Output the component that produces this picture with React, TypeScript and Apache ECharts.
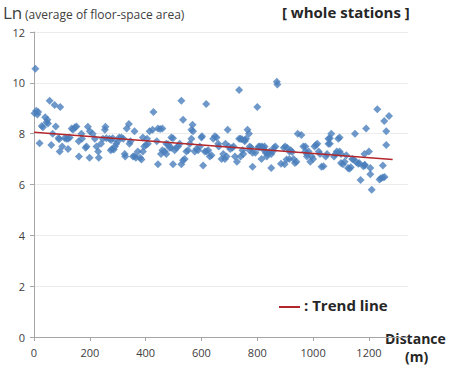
import React, { useEffect, useRef } from "react";
import * as echarts from "echarts";

const distances: number[] = [
  5, 2, 8, 12, 15, 20, 28, 32, 40, 45, 48, 50, 56, 62, 67, 74, 78, 88, 90, 94, 92, 101,
  110, 116, 122, 128, 122, 135, 140, 147, 152, 160, 161, 170, 172, 185, 188, 193, 199, 200, 210,
  218, 224, 230, 232, 240, 247, 254, 256, 259, 270, 276, 282, 275, 280, 286, 290, 295, 300, 305,
  313, 320, 325, 327, 332, 340, 342, 346, 355, 360, 365, 360, 372, 380, 385, 390, 390, 395, 401,
  408, 405, 414, 425, 428, 440, 444, 444, 452, 460, 455, 460, 468, 474, 474, 480, 486, 492, 492,
  498, 498, 504, 510, 516, 522, 528, 534, 528, 534, 540, 546, 552, 558, 564, 570, 564, 568, 576,
  582, 588, 594, 600, 602, 606, 612, 618, 617, 624, 630, 636, 642, 648, 654, 660, 662, 672, 678,
  684, 686, 690, 694, 698, 703, 710, 715, 720, 727, 735, 735, 740, 745, 740, 747, 750, 755, 755,
  760, 765, 770, 772, 773, 778, 783, 783, 793, 800, 805, 805, 810, 815, 815, 817, 822, 826, 830,
  830, 834, 838, 844, 850, 850, 855, 860, 865, 870, 872, 898, 885, 895, 900, 907, 915, 905, 915,
  920, 925, 930, 935, 940, 945, 958, 965, 972, 978, 978, 984, 990, 972, 995, 1000, 1005, 1010,
  1015, 1020, 1025, 1030, 1037, 1045, 1050, 1055, 1055, 1060, 1060, 1065, 1075, 1080, 1085, 1090,
  1095, 1100, 1095, 1100, 1107, 1113, 1119, 1125, 1130, 1135, 1140, 1145, 1150, 1165, 1155, 1162,
  1170, 1185, 1180, 1185, 1190, 1184, 1200, 1205, 1205, 1210, 1230, 1238, 1243, 1250, 1256, 1262,
  1250, 1255, 1262, 1272, 1287
];

const lnArea: number[] = [
  10.55, 8.8, 8.9, 8.75, 8.85, 7.62, 8.3, 8.25, 8.65, 8.45, 8.55, 8.4, 9.3, 7.55, 8.0, 9.13, 8.28,
  7.83, 7.78, 9.05, 7.3, 7.5, 7.83, 7.8, 7.4, 7.85, 7.8, 8.2, 8.15, 8.25, 8.28, 7.7, 7.1, 8.0, 7.8,
  7.45, 7.5, 8.27, 7.05, 8.1, 8.0, 7.8, 7.5, 7.3, 7.05, 7.6, 7.8, 8.15, 8.27, 7.82, 7.8, 7.75, 7.82,
  7.35, 7.4, 7.38, 7.5, 7.6, 7.7, 7.85, 7.85, 7.8, 7.2, 7.1, 8.2, 8.38, 7.6, 7.7, 7.1, 8.1, 7.05,
  7.12, 7.3, 7.05, 6.98, 7.3, 7.85, 7.5, 7.55, 7.6, 7.8, 8.1, 8.15, 8.85, 7.7, 6.8, 8.2, 8.18, 8.2,
  7.2, 7.35, 7.3, 7.2, 7.6, 7.58, 7.45, 7.45, 7.85, 7.82, 6.8, 7.35, 7.45, 7.5, 7.6, 9.3, 8.55, 6.8,
  6.95, 7.0, 7.3, 7.35, 7.6, 7.8, 8.1, 8.15, 8.35, 7.3, 7.4, 7.35, 7.5, 7.85, 7.9, 6.75, 7.3, 7.3,
  9.17, 7.35, 7.1, 7.15, 7.8, 7.9, 7.85, 7.6, 7.5, 7.0, 7.2, 7.0, 7.6, 7.1, 8.15, 7.5, 7.4, 7.45,
  7.5, 7.1, 6.9, 7.8, 9.72, 7.8, 7.78, 7.1, 7.35, 7.2, 7.7, 7.75, 7.8, 8.15, 8.0, 7.35, 7.5, 7.45,
  6.7, 7.25, 7.25, 9.05, 7.5, 7.45, 7.5, 7.0, 7.45, 7.5, 7.45, 7.5, 7.3, 7.25, 7.1, 7.2, 7.3, 6.65,
  7.2, 7.3, 7.45, 7.5, 10.04, 9.93, 6.8, 6.82, 7.45, 7.5, 7.45, 7.0, 6.98, 7.3, 7.35, 7.28, 7.0,
  6.85, 6.9, 8.0, 7.95, 7.5, 7.5, 7.1, 7.2, 7.3, 6.9, 7.3, 7.1, 7.0, 7.5, 7.55, 7.6, 7.3, 7.2, 6.7,
  6.72, 7.1, 7.2, 7.8, 7.6, 7.82, 7.6, 8.0, 7.1, 7.2, 7.3, 7.8, 7.85, 7.2, 7.3, 6.85, 6.8, 6.9, 7.15,
  6.65, 6.62, 6.68, 7.0, 6.98, 8.0, 6.85, 6.88, 6.82, 6.18, 6.75, 6.72, 6.78, 8.2, 7.2, 7.3, 6.65,
  6.4, 5.79, 8.96, 6.2, 6.25, 6.28, 6.3, 8.1, 6.75, 8.5, 7.55, 8.7
];

const trendX: number[] = [0, 1285];
const trendY: number[] = [8.06, 6.98];

const yTicks: number[] = [0, 2, 4, 6, 8, 10, 12];

export default function App() {
  const ref = useRef<HTMLDivElement>(null);
  useEffect(() => {
    if (!ref.current) return;
    const chart = echarts.init(ref.current, undefined, { renderer: "svg" });
    const font = "'Open Sans', 'Noto Sans', sans-serif";
    chart.setOption({
      animation: false,
      backgroundColor: "#ffffff",
      textStyle: { fontFamily: font },
      grid: { left: 34, top: 32, right: 42, bottom: 32, containLabel: false },
      xAxis: {
        type: "value",
        min: 0,
        max: 1340,
        interval: 200,
        axisLine: { show: true, lineStyle: { color: "#a6a6a6", width: 1 } },
        axisTick: { show: true, length: 4, lineStyle: { color: "#a6a6a6" } },
        axisLabel: {
          color: "#404040",
          fontSize: 11,
          margin: 10,
          showMaxLabel: false,
          fontFamily: font,
          formatter: (v: number) => String(v),
        },
        splitLine: { show: false },
      },
      yAxis: {
        type: "value",
        min: yTicks[0],
        max: yTicks[yTicks.length - 1],
        interval: 2,
        axisLine: { show: true, lineStyle: { color: "#a6a6a6", width: 1 } },
        axisTick: { show: true, length: 4, lineStyle: { color: "#a6a6a6" } },
        axisLabel: { color: "#404040", fontSize: 11, margin: 9, fontFamily: font },
        splitLine: { show: true, lineStyle: { color: "#ececec", width: 1 } },
      },
      series: [
        {
          type: "scatter",
          data: distances.map((d, i) => [d, lnArea[i]]),
          symbol: "diamond",
          symbolSize: 8,
          itemStyle: { color: "#4a7ebb" },
          z: 2,
        },
        {
          type: "line",
          data: trendX.map((x, i) => [x, trendY[i]]),
          symbol: "none",
          lineStyle: { color: "#b3262b", width: 1.5 },
          z: 3,
        },
      ],
      graphic: [
        {
          type: "text",
          x: 3,
          y: 4,
          style: {
            text: "Ln",
            fontSize: 17,
            fill: "#404040",
            fontFamily: font,
          },
        },
        {
          type: "text",
          x: 25,
          y: 8,
          style: {
            text: "(average of floor-space area)",
            fontSize: 12,
            fill: "#404040",
            fontFamily: font,
          },
        },
        {
          type: "text",
          x: 282,
          y: 4,
          style: {
            text: "[ whole stations ]",
            fontSize: 15,
            fontWeight: "bold",
            fill: "#262626",
            fontFamily: font,
          },
        },
        {
          type: "line",
          shape: { x1: 279, y1: 307, x2: 300, y2: 307 },
          style: { stroke: "#b3262b", lineWidth: 2 },
        },
        {
          type: "text",
          x: 304,
          y: 297,
          style: {
            text: ": Trend line",
            fontSize: 15,
            fontWeight: "bold",
            fill: "#262626",
            fontFamily: font,
          },
        },
        {
          type: "text",
          x: 385,
          y: 331,
          style: {
            text: "Distance",
            fontSize: 14,
            fontWeight: "bold",
            fill: "#262626",
            fontFamily: font,
          },
        },
        {
          type: "text",
          x: 405,
          y: 349,
          style: {
            text: "(m)",
            fontSize: 14,
            fontWeight: "bold",
            fill: "#262626",
            fontFamily: font,
          },
        },
      ],
    });
    return () => chart.dispose();
  }, []);
  return (
    <div
      ref={ref}
      style={{ position: "absolute", left: 0, top: 0, width: 450, height: 369 }}
    />
  );
}
